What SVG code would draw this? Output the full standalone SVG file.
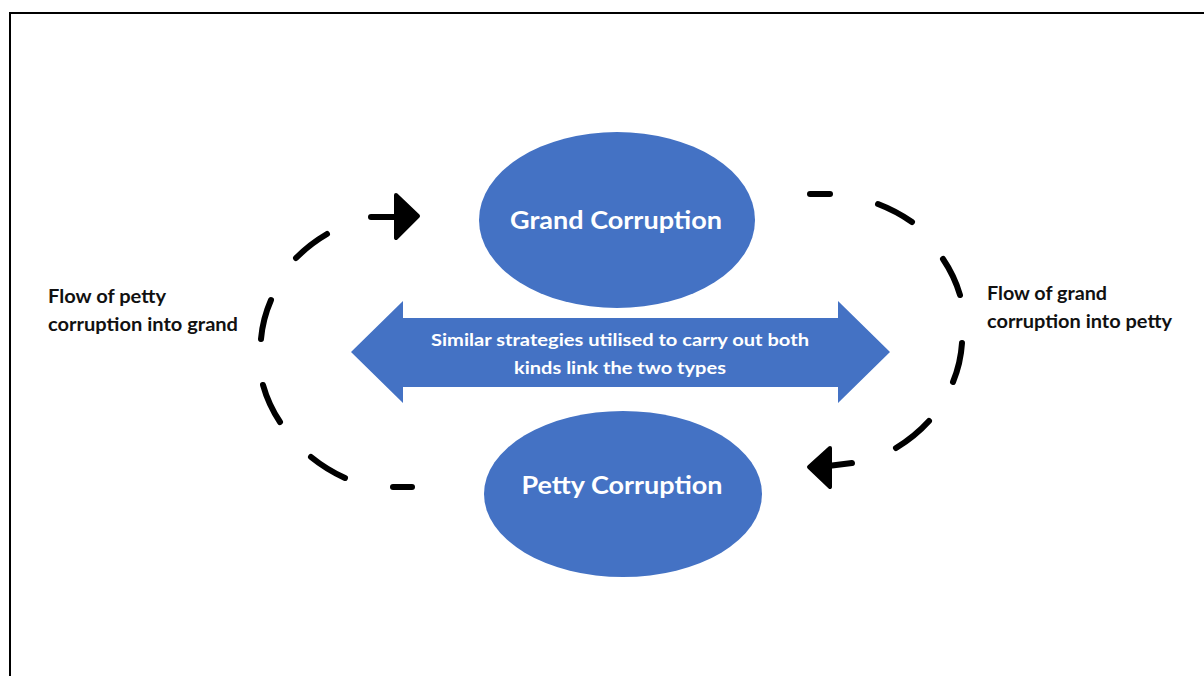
<svg xmlns="http://www.w3.org/2000/svg" width="1204" height="676" viewBox="0 0 1204 676">
  <style>
    .shape { fill: #4472C4; }
    .ntext { font-family: Lato, "Liberation Sans", sans-serif; font-weight: bold; fill: #FFFFFF; text-anchor: middle; }
    .label { font-family: Lato, "Liberation Sans", sans-serif; font-weight: bold; fill: #111111; font-size: 19px; }
    .dash { fill: none; stroke: #000000; stroke-width: 6; stroke-linecap: round; }
    .head { fill: #000000; stroke: #000000; stroke-width: 4; stroke-linejoin: round; }
    .frame { stroke: #000000; stroke-width: 2; fill: none; }
  </style>
  <rect x="0" y="0" width="1204" height="676" fill="#FFFFFF"/>
  <g id="frame">
    <line class="frame" x1="10" y1="13" x2="1204" y2="13"/>
    <line class="frame" x1="10" y1="12" x2="10" y2="676"/>
  </g>

  <g id="connectors">
    <g id="petty-to-grand">
      <path class="dash" d="M 327 234 A 155 137 0 0 0 296 258"/>
      <path class="dash" d="M 271 300 A 155 137 0 0 0 261 339"/>
      <path class="dash" d="M 263 385 A 155 137 0 0 0 280 422"/>
      <path class="dash" d="M 311 457 A 155 137 0 0 0 345 478"/>
      <path class="dash" d="M 393 487 L 412 487"/>
      <path class="dash" d="M 371 217 L 398 217"/>
      <path class="head" d="M 396 195 L 418 216 L 396 238 Z"/>
    </g>
    <g id="grand-to-petty">
      <path class="dash" d="M 810 194 L 830 194"/>
      <path class="dash" d="M 878 204 A 153 136 0 0 1 912 222"/>
      <path class="dash" d="M 943 259 A 153 136 0 0 1 960 295"/>
      <path class="dash" d="M 962 343 A 153 136 0 0 1 953 382"/>
      <path class="dash" d="M 929 421 A 153 136 0 0 1 896 448"/>
      <path class="dash" d="M 852 463 L 828 466"/>
      <path class="head" d="M 830 448 L 809 467 L 830 487 Z"/>
    </g>
  </g>

  <g id="link-arrow">
    <path class="shape" d="M 351 352 L 403 301 L 403 318 L 838 318 L 838 301 L 890 352 L 838 403 L 838 387 L 403 387 L 403 403 Z"/>
    <text class="ntext" font-size="17" x="620" y="346" textLength="378" lengthAdjust="spacingAndGlyphs">Similar strategies utilised to carry out both</text>
    <text class="ntext" font-size="17" x="620" y="374" textLength="212" lengthAdjust="spacingAndGlyphs">kinds link the two types</text>
  </g>

  <g id="grand-corruption">
    <ellipse class="shape" cx="617" cy="220" rx="138" ry="88"/>
    <text class="ntext" font-size="25" x="616" y="229" textLength="212" lengthAdjust="spacingAndGlyphs">Grand Corruption</text>
  </g>

  <g id="petty-corruption">
    <ellipse class="shape" cx="623" cy="494" rx="139" ry="83"/>
    <text class="ntext" font-size="25" x="622" y="494" textLength="201" lengthAdjust="spacingAndGlyphs">Petty Corruption</text>
  </g>

  <g id="label-petty-to-grand">
    <text class="label" x="48" y="303" textLength="118" lengthAdjust="spacingAndGlyphs">Flow of petty</text>
    <text class="label" x="48" y="331" textLength="190" lengthAdjust="spacingAndGlyphs">corruption into grand</text>
  </g>

  <g id="label-grand-to-petty">
    <text class="label" x="987" y="300" textLength="120" lengthAdjust="spacingAndGlyphs">Flow of grand</text>
    <text class="label" x="987" y="328" textLength="185" lengthAdjust="spacingAndGlyphs">corruption into petty</text>
  </g>
</svg>
